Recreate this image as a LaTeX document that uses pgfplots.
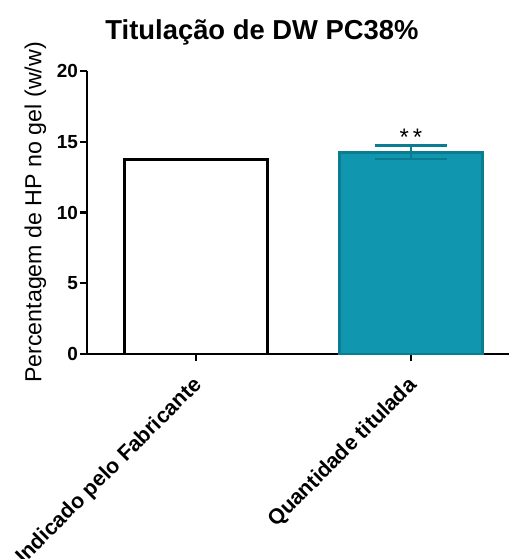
\documentclass[border=0pt]{standalone}
\usepackage{pgfplots}
\pgfplotsset{compat=1.18}
\usepackage{fontspec}
\setmainfont{Liberation Sans}
\definecolor{tealfill}{HTML}{1196B0}
\definecolor{tealedge}{HTML}{0B7D93}
\begin{document}
\begin{tikzpicture}
\begin{axis}[name=ax,
  at={(0,0)}, anchor=south west,
  width=422bp, height=283bp, scale only axis,
  xmin=-0.507, xmax=1.456, ymin=0, ymax=20,
  axis x line=bottom, axis y line=left,
  axis line style={line width=2.2bp, -},
  ytick={0,5,10,15,20},
  xtick={0,1}, xticklabels={Indicado pelo Fabricante, Quantidade titulada},
  x tick label style={rotate=45, anchor=east, font=\bfseries\fontsize{21.5}{23}\selectfont, inner sep=1pt, yshift=-17bp, xshift=-12bp},
  y tick label style={font=\bfseries\fontsize{19}{21}\selectfont, inner sep=2pt},
  /pgf/number format/assume math mode=true,
  tick style={line width=2.2bp, black},
  major tick length=7bp,
  tickpos=left,
  xtick align=outside, ytick align=outside,
  ylabel={Percentagem de HP no gel (w/w)},
  ylabel style={font=\fontsize{23.3}{25}\selectfont, yshift=5bp},
  title={Titulação de DW PC38\%},
  title style={font=\bfseries\fontsize{27.5}{30}\selectfont, yshift=16bp, xshift=-36bp},
  ybar, bar width=0.665, bar shift=0pt,
  clip=false,
]
\addplot[draw=black, fill=white, line width=2.8bp] coordinates {(0,13.75)};
\addplot[draw=tealedge, fill=tealfill, line width=2.8bp,
  error bars/.cd, y dir=both, y explicit,
  error bar style={line width=2.4bp, color=tealedge},
  error mark options={line width=2.4bp, color=tealedge, mark size=36bp, rotate=90}
] coordinates {(1,14.25) +- (0,0.48)};
\addplot[only marks, mark=none, nodes near coords={\fontsize{24}{24}\selectfont *\,*}, nodes near coords align={above}, point meta=explicit symbolic] coordinates {(1,14.5)[x]};
\end{axis}
\pgfresetboundingbox
\path[use as bounding box] ([shift={(-87bp,-205bp)}]ax.south west) rectangle ([shift={(0bp,71bp)}]ax.north east);
\end{tikzpicture}
\end{document}
